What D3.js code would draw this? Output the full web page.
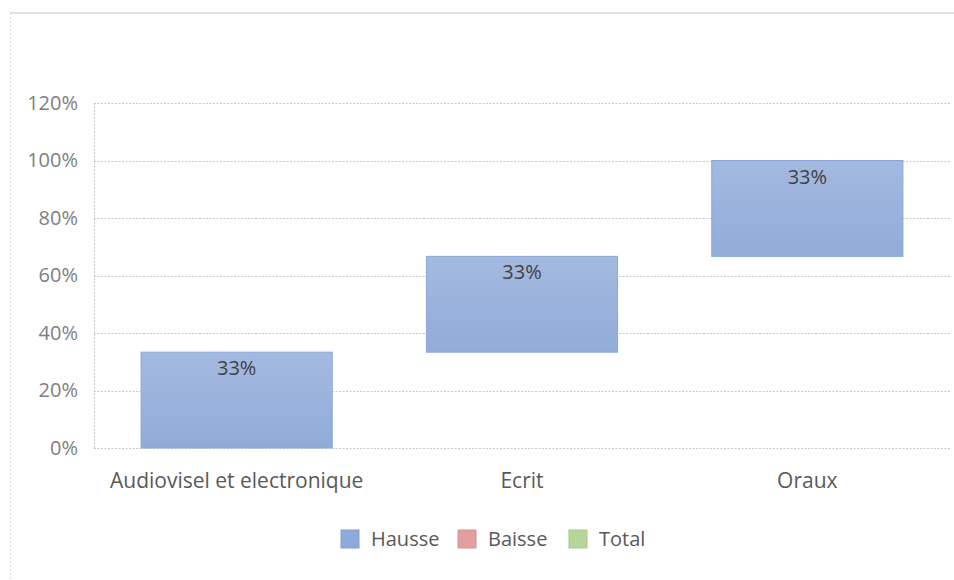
<!DOCTYPE html>
<html>
<head>
<meta charset="utf-8">
<script src="https://cdn.jsdelivr.net/npm/d3@7"></script>
<style>
  html, body { margin: 0; padding: 0; background: #fff; }
  svg { display: block; }
  svg text { font-family: "Open Sans", "Noto Sans", sans-serif; }
</style>
</head>
<body>
<svg id="chart" width="954" height="580"></svg>
<script>
// Waterfall: each category adds its share on top of the previous running total
const categories = ["Audiovisel et electronique", "Ecrit", "Oraux"];
const increments = [33.33, 33.33, 33.34];
const yTicks = [0, 20, 40, 60, 80, 100, 120];
const legendLabels = ["Hausse", "Baisse", "Total"];
const legendColors = ["#8eaadb", "#e49e9e", "#b5d59b"];

const svg = d3.select("#chart");
const margin = { left: 94, right: 950, top: 103, bottom: 448 };

// Outer frame
svg.append("line").attr("x1", 10).attr("x2", 954).attr("y1", 13).attr("y2", 13)
  .attr("stroke", "#d9d9d9").attr("stroke-width", 1.5);
svg.append("line").attr("x1", 10.5).attr("x2", 10.5).attr("y1", 13).attr("y2", 580)
  .attr("stroke", "#d9d9d9").attr("stroke-dasharray", "2,2");

const x = d3.scaleBand().domain(categories).range([margin.left, margin.right])
  .paddingInner(0.33).paddingOuter(0.165);
const y = d3.scaleLinear().domain([0, 120]).range([margin.bottom, margin.top]);

// Running totals
let acc = 0;
const bars = categories.map((c, i) => {
  const start = acc;
  acc += increments[i];
  return { cat: c, start, end: acc, value: increments[i] };
});

// Gridlines
svg.append("g").selectAll("line").data(yTicks).join("line")
  .attr("x1", margin.left).attr("x2", margin.right)
  .attr("y1", d => Math.round(y(d)) + 0.5).attr("y2", d => Math.round(y(d)) + 0.5)
  .attr("stroke", "#c8c8c8").attr("stroke-dasharray", "2,1.5");
svg.append("line").attr("x1", margin.left + 0.5).attr("x2", margin.left + 0.5)
  .attr("y1", margin.top).attr("y2", margin.bottom)
  .attr("stroke", "#c8c8c8").attr("stroke-dasharray", "2,1.5");

// Y axis
const yAxis = d3.axisLeft(y).tickValues(yTicks).tickFormat(d => d + "%").tickSize(0).tickPadding(16);
const gy = svg.append("g").attr("transform", `translate(${margin.left},0)`).call(yAxis);
gy.select(".domain").remove();
gy.attr("font-family", null);
gy.selectAll("text").attr("fill", "#808080").style("font-size", "20px");

// X axis
const xAxis = d3.axisBottom(x).tickSize(0).tickPadding(25);
const gx = svg.append("g").attr("transform", `translate(0,${margin.bottom})`).call(xAxis);
gx.select(".domain").remove();
gx.attr("font-family", null);
gx.selectAll("text").attr("fill", "#595959").style("font-size", "21px");

// Bars
const grad = svg.append("defs").append("linearGradient").attr("id", "barFill")
  .attr("x1", 0).attr("y1", 0).attr("x2", 0).attr("y2", 1);
grad.append("stop").attr("offset", "0%").attr("stop-color", "#a4b9df");
grad.append("stop").attr("offset", "100%").attr("stop-color", "#91acd9");

svg.append("g").selectAll("rect").data(bars).join("rect")
  .attr("x", d => x(d.cat))
  .attr("width", x.bandwidth())
  .attr("y", d => y(d.end))
  .attr("height", d => y(d.start) - y(d.end))
  .attr("fill", "url(#barFill)")
  .attr("stroke", "#8aa7d8").attr("stroke-width", 1);

// Value labels
svg.append("g").selectAll("text").data(bars).join("text")
  .attr("x", d => x(d.cat) + x.bandwidth() / 2)
  .attr("y", d => y(d.end) + 23)
  .attr("text-anchor", "middle")
  .attr("fill", "#404040").style("font-size", "20px")
  .text(d => Math.round(d.value) + "%");

// Legend
const legendX = [341, 458, 569];
const lg = svg.append("g").selectAll("g").data(legendLabels).join("g")
  .attr("transform", (d, i) => `translate(${legendX[i]},530)`);
lg.append("rect").attr("width", 18).attr("height", 18)
  .attr("fill", (d, i) => legendColors[i])
  .attr("stroke", (d, i) => d3.color(legendColors[i]).darker(0.2));
lg.append("text").attr("x", 30).attr("y", 16)
  .attr("fill", "#595959").style("font-size", "20px").text(d => d);
</script>
</body>
</html>
